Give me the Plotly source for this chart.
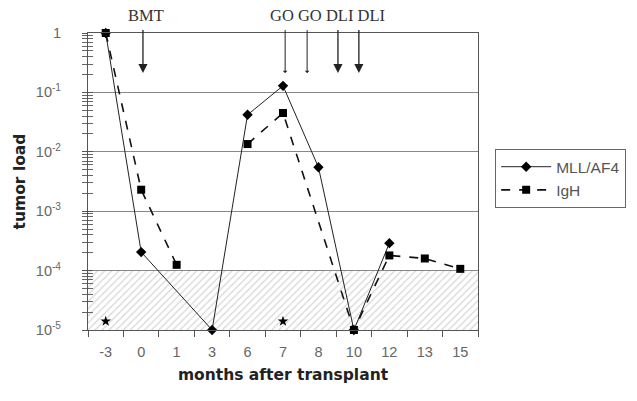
import plotly.graph_objects as go

# ---- data ----
categories = ["-3", "0", "1", "3", "6", "7", "8", "10", "12", "13", "15"]

mll_x = ["-3", "0", "3", "6", "7", "8", "10", "12"]
mll_y = [1, 2.05e-4, 1e-5, 0.042, 0.129, 5.5e-3, 1e-5, 2.9e-4]

igh_x = ["-3", "0", "1", None, "6", "7", "10", "12", "13", "15"]
igh_y = [1, 2.3e-3, 1.25e-4, None, 0.0135, 0.045, 1e-5, 1.8e-4, 1.6e-4, 1.07e-4]

star_x = ["-3", "7"]
star_y = [1.4e-5, 1.4e-5]

detection_limit = 1e-4
axis_floor = 1e-5

# event arrows (category-index positions)
arrow_pos = [1.05, 5.06, 5.68, 6.55, 7.14]
arrow_bold = [True, False, False, True, True]
# event labels
event_labels = ["BMT", "GO GO DLI DLI"]
event_label_pos = [1.136, 6.255]

ytick_vals = [1, 1e-1, 1e-2, 1e-3, 1e-4, 1e-5]
ytick_text = ["1", "10<sup>-1</sup>", "10<sup>-2</sup>", "10<sup>-3</sup>",
              "10<sup>-4</sup>", "10<sup>-5</sup>"]
minor_vals = [k * 10.0 ** e for e in range(-5, 0) for k in range(2, 10)]

fig = go.Figure()

# hatched region below detection limit
fig.add_trace(go.Bar(
    x=categories,
    y=[detection_limit - axis_floor] * len(categories),
    base=[axis_floor] * len(categories),
    width=1,
    marker=dict(color="white", line=dict(width=0),
                pattern=dict(shape="/", fgcolor="#a8a8a8", bgcolor="white",
                             size=5, solidity=0.22)),
    showlegend=False, hoverinfo="skip",
))

fig.add_trace(go.Scatter(
    x=mll_x, y=mll_y, name="MLL/AF4", mode="lines+markers",
    line=dict(color="#222", width=1),
    marker=dict(symbol="diamond", size=8, color="black"),
    cliponaxis=False,
))
fig.add_trace(go.Scatter(
    x=igh_x, y=igh_y, name="IgH", mode="lines+markers",
    line=dict(color="#111", width=1.6, dash="dash"),
    marker=dict(symbol="square", size=8, color="black"),
    connectgaps=False, cliponaxis=False,
))
fig.add_trace(go.Scatter(
    x=star_x, y=star_y, mode="markers",
    marker=dict(symbol="star", size=8, color="black"),
    showlegend=False, hoverinfo="skip",
))
# invisible trace so the inside half of the crossing ticks is drawn
fig.add_trace(go.Scatter(
    x=[categories[0]], y=[1], yaxis="y2", mode="markers",
    marker=dict(opacity=0), showlegend=False, hoverinfo="skip",
))

for pos, bold in zip(arrow_pos, arrow_bold):
    fig.add_annotation(
        x=pos, y=0.865, xref="x", yref="paper",
        text=" ", showarrow=True, ax=0, ay=-45,
        arrowhead=2 if bold else 1,
        arrowsize=1.4 if bold else 0.8,
        arrowwidth=1.3 if bold else 1,
        arrowcolor="#222", startstandoff=0,
        font=dict(size=1),
    )

for lab, pos in zip(event_labels, event_label_pos):
    fig.add_annotation(
        x=pos, y=1.0, xref="x", yref="paper", yanchor="middle",
        yshift=18, text=lab, showarrow=False,
        font=dict(family="Liberation Serif", size=16.5, color="#333"),
    )

fig.update_layout(
    width=637, height=401,
    margin=dict(l=88, r=159, t=33, b=71, autoexpand=False),
    plot_bgcolor="white", paper_bgcolor="white",
    bargap=0,
    xaxis=dict(
        type="category", categoryorder="array", categoryarray=categories,
        range=[-0.5, len(categories) - 0.5],
        showgrid=False, showline=True, linecolor="#555", linewidth=1.2,
        mirror=True, ticks="outside", tickson="boundaries", ticklen=6,
        tickcolor="#555", ticklabelstandoff=8,
        tickfont=dict(family="Liberation Sans", size=14.5, color="#666"),
        title=dict(text="months after transplant", standoff=10,
                   font=dict(family="DejaVu Sans", size=15.5, color="#222",
                             weight="bold")),
        zeroline=False,
    ),
    yaxis=dict(
        type="log", range=[-5, 0],
        tickmode="array", tickvals=ytick_vals, ticktext=ytick_text,
        showgrid=True, gridcolor="#888", gridwidth=1,
        showline=True, linecolor="#555", linewidth=1.2, mirror=True,
        ticks="outside", ticklen=5, tickcolor="#555", ticklabelstandoff=18,
        minor=dict(tickmode="array", tickvals=minor_vals, ticks="outside",
                   ticklen=5, tickcolor="#666", showgrid=False),
        tickfont=dict(family="Liberation Sans", size=14.5, color="#666"),
        title=dict(text="tumor load", standoff=6,
                   font=dict(family="DejaVu Sans", size=15.5, color="#222",
                             weight="bold")),
        zeroline=False,
    ),
    yaxis2=dict(
        type="log", range=[-5, 0], overlaying="y", side="left",
        tickmode="array", tickvals=ytick_vals, showticklabels=False,
        showgrid=False, showline=False, ticks="inside", ticklen=5,
        tickcolor="#555",
        minor=dict(tickmode="array", tickvals=minor_vals, ticks="inside",
                   ticklen=5, tickcolor="#666", showgrid=False),
    ),
    legend=dict(
        x=1.044, y=0.609, xanchor="left", yanchor="top",
        bordercolor="#666", borderwidth=1, bgcolor="white",
        font=dict(family="Liberation Sans", size=15.5, color="#555"),
        tracegroupgap=0, itemwidth=50,
    ),
)

fig.write_html("out.html",
               config={"displayModeBar": False},
               post_script="document.body.style.margin='0';")
